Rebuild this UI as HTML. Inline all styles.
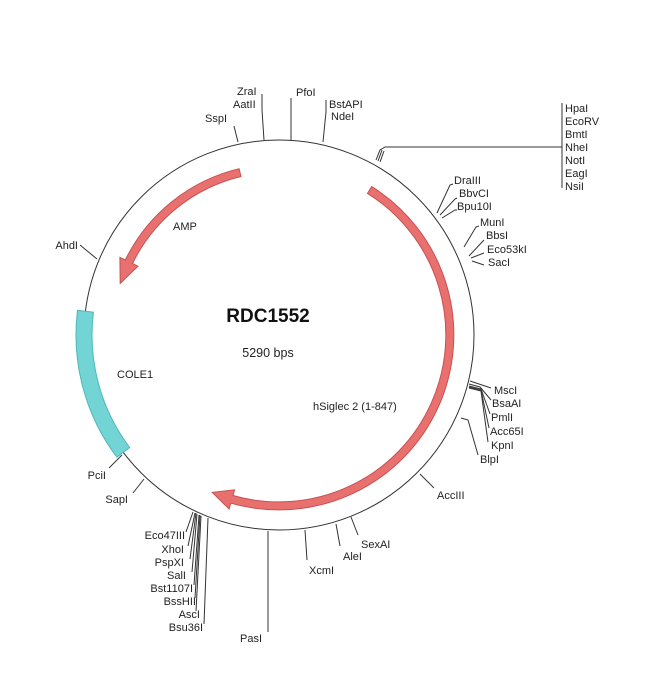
<!DOCTYPE html>
<html><head><meta charset="utf-8"><style>
html,body{margin:0;padding:0;background:#fff}
svg{display:block}
text{font-family:"Liberation Sans",sans-serif;font-size:11px;fill:#222}
</style></head><body>
<svg width="650" height="676" viewBox="0 0 650 676">
<circle cx="279" cy="335" r="195" fill="none" stroke="#333" stroke-width="1"/>
<path d="M371.7,186.6 A175 175 0 0 1 230.8,503.2 L229.1,509.0 L212.2,492.4 L234.6,489.8 L233.0,495.5 A167 167 0 0 0 367.5,193.4 Z" fill="#e8706f" stroke="#c95050" stroke-width="1"/>
<path d="M239.1,168.7 A171 171 0 0 0 125.3,260.0 L119.9,257.4 L120.2,283.4 L137.9,266.2 L132.5,263.5 A163 163 0 0 1 241.0,176.5 Z" fill="#e8706f" stroke="#c95050" stroke-width="1"/>
<path d="M77.5,310.3 A203 203 0 0 0 116.9,457.2 L129.7,447.5 A187 187 0 0 1 93.4,312.2 Z" fill="#72d4d4" stroke="#4fb8b8" stroke-width="1"/>
<g stroke="#333" stroke-width="1" fill="none">
<polyline points="238,142 234,126"/>
<polyline points="264,140 262,110 262,94"/>
<polyline points="291,140 291,98"/>
<polyline points="323,142 326,112 326,100"/>
<polyline points="376,160 380,150 385,147 562,147"/>
<polyline points="378,161 382,150"/><polyline points="380,162 384,151"/>
<line x1="562" y1="103" x2="562" y2="188"/>
<polyline points="437,213 450,185 453,184"/>
<polyline points="440,215 455,199 457,198"/>
<polyline points="442,218 455,210 457,210"/>
<polyline points="464,247 476,227 479,226"/>
<polyline points="469,256 484,240"/>
<polyline points="471,258 484,253"/>
<polyline points="472,261 484,265"/>
<polyline points="470,381 491,388"/>
<polyline points="469,384 480,387 491,400"/>
<polyline points="469,386 481,389 490,414"/>
<polyline points="469,387 481,390 489,428"/>
<polyline points="469,388 481,391 488,442"/>
<polyline points="461,418 468,420 478,455"/>
<polyline points="420,474 434,488"/>
<polyline points="351,517 358,535"/>
<polyline points="336,524 340,546"/>
<polyline points="305,530 307,560"/>
<line x1="268" y1="531" x2="268" y2="632"/>
<polyline points="193,512 186,532"/><polyline points="195,513 188,546"/>
<polyline points="196,513 190,559"/><polyline points="197,514 192,572"/>
<polyline points="199,515 194,585"/><polyline points="200,515 195,598"/>
<polyline points="201,516 196,611"/><polyline points="208,518 204,624"/>
<polyline points="144,479 133,493"/>
<polyline points="122,455 109,468"/>
<polyline points="97,259 80,245"/>
</g>
<text x="237" y="95">ZraI</text>
<text x="233" y="108">AatII</text>
<text x="205" y="122">SspI</text>
<text x="296" y="96">PfoI</text>
<text x="329" y="108">BstAPI</text>
<text x="331" y="120">NdeI</text>
<text x="565" y="112">HpaI</text>
<text x="565" y="125">EcoRV</text>
<text x="565" y="138">BmtI</text>
<text x="565" y="151">NheI</text>
<text x="565" y="164">NotI</text>
<text x="565" y="177">EagI</text>
<text x="565" y="190">NsiI</text>
<text x="454" y="184">DraIII</text>
<text x="459" y="197">BbvCI</text>
<text x="457" y="210">Bpu10I</text>
<text x="480" y="226">MunI</text>
<text x="486" y="239">BbsI</text>
<text x="487" y="253">Eco53kI</text>
<text x="488" y="266">SacI</text>
<text x="494" y="394">MscI</text>
<text x="492" y="407">BsaAI</text>
<text x="491" y="421">PmlI</text>
<text x="490" y="435">Acc65I</text>
<text x="491" y="449">KpnI</text>
<text x="480" y="463">BlpI</text>
<text x="437" y="499">AccIII</text>
<text x="361" y="548">SexAI</text>
<text x="343" y="560">AleI</text>
<text x="309" y="574">XcmI</text>
<text x="240" y="642">PasI</text>
<text x="203" y="631" text-anchor="end">Bsu36I</text>
<text x="200" y="618" text-anchor="end">AscI</text>
<text x="196" y="605" text-anchor="end">BssHII</text>
<text x="193" y="592" text-anchor="end">Bst1107I</text>
<text x="186" y="579" text-anchor="end">SalI</text>
<text x="184" y="566" text-anchor="end">PspXI</text>
<text x="184" y="553" text-anchor="end">XhoI</text>
<text x="185" y="539" text-anchor="end">Eco47III</text>
<text x="128" y="503" text-anchor="end">SapI</text>
<text x="106" y="479" text-anchor="end">PciI</text>
<text x="78" y="249" text-anchor="end">AhdI</text>
<text x="173" y="230">AMP</text>
<text x="117" y="378">COLE1</text>
<text x="313" y="410">hSiglec 2 (1-847)</text>
<text x="268" y="322" text-anchor="middle" style="font-size:19px;font-weight:bold;fill:#111">RDC1552</text>
<text x="268" y="357" text-anchor="middle" style="font-size:12.5px">5290 bps</text>
</svg>
</body></html>
